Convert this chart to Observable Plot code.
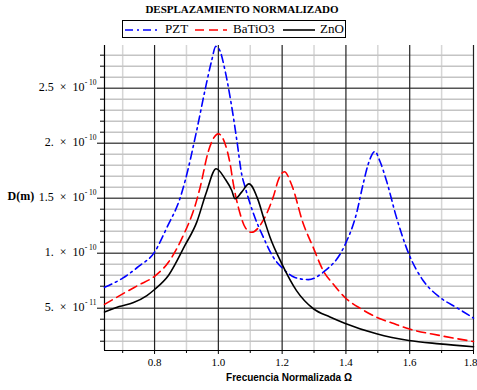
<!DOCTYPE html>
<html>
<head>
<meta charset="utf-8">
<script src="https://cdn.jsdelivr.net/npm/d3@7"></script>
<script src="https://cdn.jsdelivr.net/npm/@observablehq/plot@0.6"></script>
<style>
  html, body { margin: 0; padding: 0; background: #fff; }
  #wrap { position: relative; width: 477px; height: 390px; overflow: hidden; }
  #title { position: absolute; left: 0; width: 484px; top: 3px; text-align: center;
           font: bold 11px "Liberation Serif", "Times New Roman", serif; color: #000; }
  #legend { position: absolute; left: 122px; top: 20px; width: 222px; height: 16px;
            border: 1px solid #000; background: #fff; font: 13px "Liberation Serif", serif; }
  #legend svg { position: absolute; left: 0; top: 0; }
  #legend span { position: absolute; top: 0px; line-height: 16px; }
  #chart { position: absolute; left: 0; top: 0; }
</style>
</head>
<body>
<div id="wrap">
  <div id="chart"></div>
  <div id="title">DESPLAZAMIENTO NORMALIZADO</div>
  <div id="legend">
    <svg width="222" height="16">
      <line x1="2" x2="34" y1="9" y2="9" stroke="#0000ff" stroke-width="1.6" stroke-dasharray="8,4,2,4"/>
      <line x1="72" x2="104" y1="9" y2="9" stroke="#ff0000" stroke-width="1.6" stroke-dasharray="9,5"/>
      <line x1="160" x2="192" y1="9" y2="9" stroke="#000000" stroke-width="1.6"/>
    </svg>
    <span style="left:42px">PZT</span>
    <span style="left:110px">BaTiO3</span>
    <span style="left:197px">ZnO</span>
  </div>
</div>
<script>
// Displacement values in units of 1e-10 m
const pztFreq = [0.643, 0.70, 0.75, 0.80, 0.839, 0.881, 0.896, 0.932, 0.958, 0.979, 0.992, 1.005, 1.021, 1.042, 1.058, 1.073, 1.084, 1.11, 1.141, 1.172, 1.203, 1.24, 1.282, 1.329, 1.396, 1.433, 1.454, 1.47, 1.491, 1.506, 1.527, 1.558, 1.597, 1.642, 1.694, 1.75, 1.80];
const pztDisp = [0.69, 0.773, 0.88, 1.01, 1.236, 1.51, 1.66, 2.115, 2.48, 2.75, 2.88, 2.84, 2.66, 2.33, 2.025, 1.72, 1.60, 1.36, 1.145, 0.964, 0.858, 0.78, 0.76, 0.827, 1.07, 1.36, 1.63, 1.81, 1.925, 1.84, 1.66, 1.33, 0.995, 0.752, 0.60, 0.50, 0.41];

const batFreq = [0.643, 0.70, 0.75, 0.80, 0.844, 0.885, 0.932, 0.943, 0.969, 1.0, 1.021, 1.037, 1.047, 1.068, 1.085, 1.104, 1.141, 1.172, 1.19, 1.207, 1.23, 1.266, 1.297, 1.329, 1.36, 1.396, 1.45, 1.496, 1.55, 1.597, 1.694, 1.80];
const batDisp = [0.535, 0.63, 0.71, 0.79, 0.92, 1.13, 1.48, 1.60, 1.93, 2.085, 1.995, 1.81, 1.63, 1.36, 1.23, 1.19, 1.30, 1.51, 1.68, 1.74, 1.62, 1.27, 1.055, 0.84, 0.72, 0.60, 0.49, 0.418, 0.36, 0.313, 0.252, 0.197];

const znoFreq = [0.643, 0.689, 0.734, 0.776, 0.80, 0.844, 0.896, 0.932, 0.962, 0.993, 1.021, 1.042, 1.052, 1.073, 1.096, 1.125, 1.141, 1.162, 1.198, 1.245, 1.298, 1.35, 1.396, 1.496, 1.597, 1.694, 1.80];
const znoDisp = [0.465, 0.515, 0.552, 0.615, 0.67, 0.80, 1.075, 1.28, 1.55, 1.767, 1.676, 1.57, 1.495, 1.555, 1.63, 1.48, 1.33, 1.145, 0.91, 0.66, 0.495, 0.42, 0.364, 0.267, 0.206, 0.176, 0.15];

const xMajor = [0.8, 1.0, 1.2, 1.4, 1.6, 1.8];
const xMinor = [0.7, 0.9, 1.1, 1.3, 1.5, 1.7];
const xTickLabels = ["0.8", "1.0", "1.2", "1.4", "1.6", "1.8"];
const yMajor = [0.5, 1.0, 1.5, 2.0, 2.5];
const yMinor = [0.2, 0.3, 0.4, 0.6, 0.7, 0.8, 0.9, 1.1, 1.2, 1.3, 1.4, 1.6, 1.7, 1.8, 1.9, 2.1, 2.2, 2.3, 2.4, 2.6, 2.7, 2.8];
const yMantissa = ["5.\u2002\u00d7\u200210", "1.\u2002\u00d7\u200210", "1.5\u2002\u00d7\u200210", "2.\u2002\u00d7\u200210", "2.5\u2002\u00d7\u200210"];
const yExponent = ["- 11", "- 10", "- 10", "- 10", "- 10"];

const X0 = 0.643, X1 = 1.8, Y0 = 0.1155, Y1 = 2.888;

const mk = (f, d) => f.map((x, i) => ({x, y: d[i]}));
const pzt = mk(pztFreq, pztDisp);
const bat = mk(batFreq, batDisp);
const zno = mk(znoFreq, znoDisp);
const yTicks = yMajor.map((v, i) => ({v, m: yMantissa[i], e: yExponent[i]}));
const xTicks = xMajor.map((v, i) => ({v, t: xTickLabels[i], dx: i === xMajor.length - 1 ? -3 : 0}));

const serif = "'Liberation Serif', 'Times New Roman', serif";
const blank = () => "";

const chart = Plot.plot({
  width: 477,
  height: 390,
  marginLeft: 104,
  marginRight: 4,
  marginTop: 45,
  marginBottom: 40,
  x: {type: "linear", domain: [X0, X1], axis: null},
  y: {type: "linear", domain: [Y0, Y1], axis: null},
  style: {fontFamily: serif, background: "#fff"},
  marks: [
    // grid
    Plot.ruleX(xMinor, {stroke: "#d6d6d6", strokeWidth: 1.5}),
    Plot.ruleY(yMinor, {stroke: "#c4c4c4", strokeWidth: 1.5}),
    Plot.ruleY(yMajor, {stroke: "#555", strokeWidth: 1.6}),
    Plot.ruleX(xMajor, {stroke: "#222", strokeWidth: 1.2}),
    // ticks
    Plot.axisY(yMinor, {anchor: "left", tickSize: 4, tickFormat: blank, stroke: "#000"}),
    Plot.axisY(yMajor, {anchor: "left", tickSize: 7, tickFormat: blank, stroke: "#000"}),
    Plot.axisX(xMinor, {anchor: "bottom", tickSize: 3, tickFormat: blank, stroke: "#000"}),
    Plot.axisX(xMajor, {anchor: "bottom", tickSize: 4, tickFormat: blank, stroke: "#000"}),
    // axis lines
    Plot.ruleX([X0], {stroke: "#000", strokeWidth: 1.2}),
    Plot.ruleY([Y0], {stroke: "#000", strokeWidth: 1.2}),
    // curves
    Plot.line(pzt, {x: "x", y: "y", stroke: "#0000ff", strokeWidth: 1.6, strokeDasharray: "8,4,2,4", curve: "monotone-x"}),
    Plot.line(bat, {x: "x", y: "y", stroke: "#ff0000", strokeWidth: 1.6, strokeDasharray: "9,5", curve: "monotone-x"}),
    Plot.line(zno, {x: "x", y: "y", stroke: "#000000", strokeWidth: 1.6, curve: "monotone-x"}),
    // y tick labels
    Plot.text(yTicks, {y: "v", text: "m", frameAnchor: "left", textAnchor: "end", dx: -20, dy: -1, fontSize: 12, fill: "#000"}),
    Plot.text(yTicks, {y: "v", text: "e", frameAnchor: "left", textAnchor: "end", dx: -8, dy: -6, fontSize: 7.5, fill: "#000"}),
    // x tick labels
    Plot.text(xTicks, {x: "v", text: "t", frameAnchor: "bottom", dy: 15, dx: -0, fontSize: 11, fill: "#000", filter: d => d.dx === 0}),
    Plot.text(xTicks, {x: "v", text: "t", frameAnchor: "bottom", dy: 15, dx: -3, fontSize: 11, fill: "#000", filter: d => d.dx !== 0}),
    // axis labels
    Plot.text(["D(m)"], {y: 1.5, frameAnchor: "left", textAnchor: "start", dx: -97, dy: -2, fontSize: 12, fontWeight: "bold", fill: "#000"}),
    Plot.text(["Frecuencia Normalizada \u03a9"], {frameAnchor: "bottom", dy: 30, fontSize: 10, fontWeight: "bold", fontFamily: "'Liberation Sans', Arial, sans-serif", fill: "#000"})
  ]
});

document.getElementById("chart").appendChild(chart);
</script>
</body>
</html>
